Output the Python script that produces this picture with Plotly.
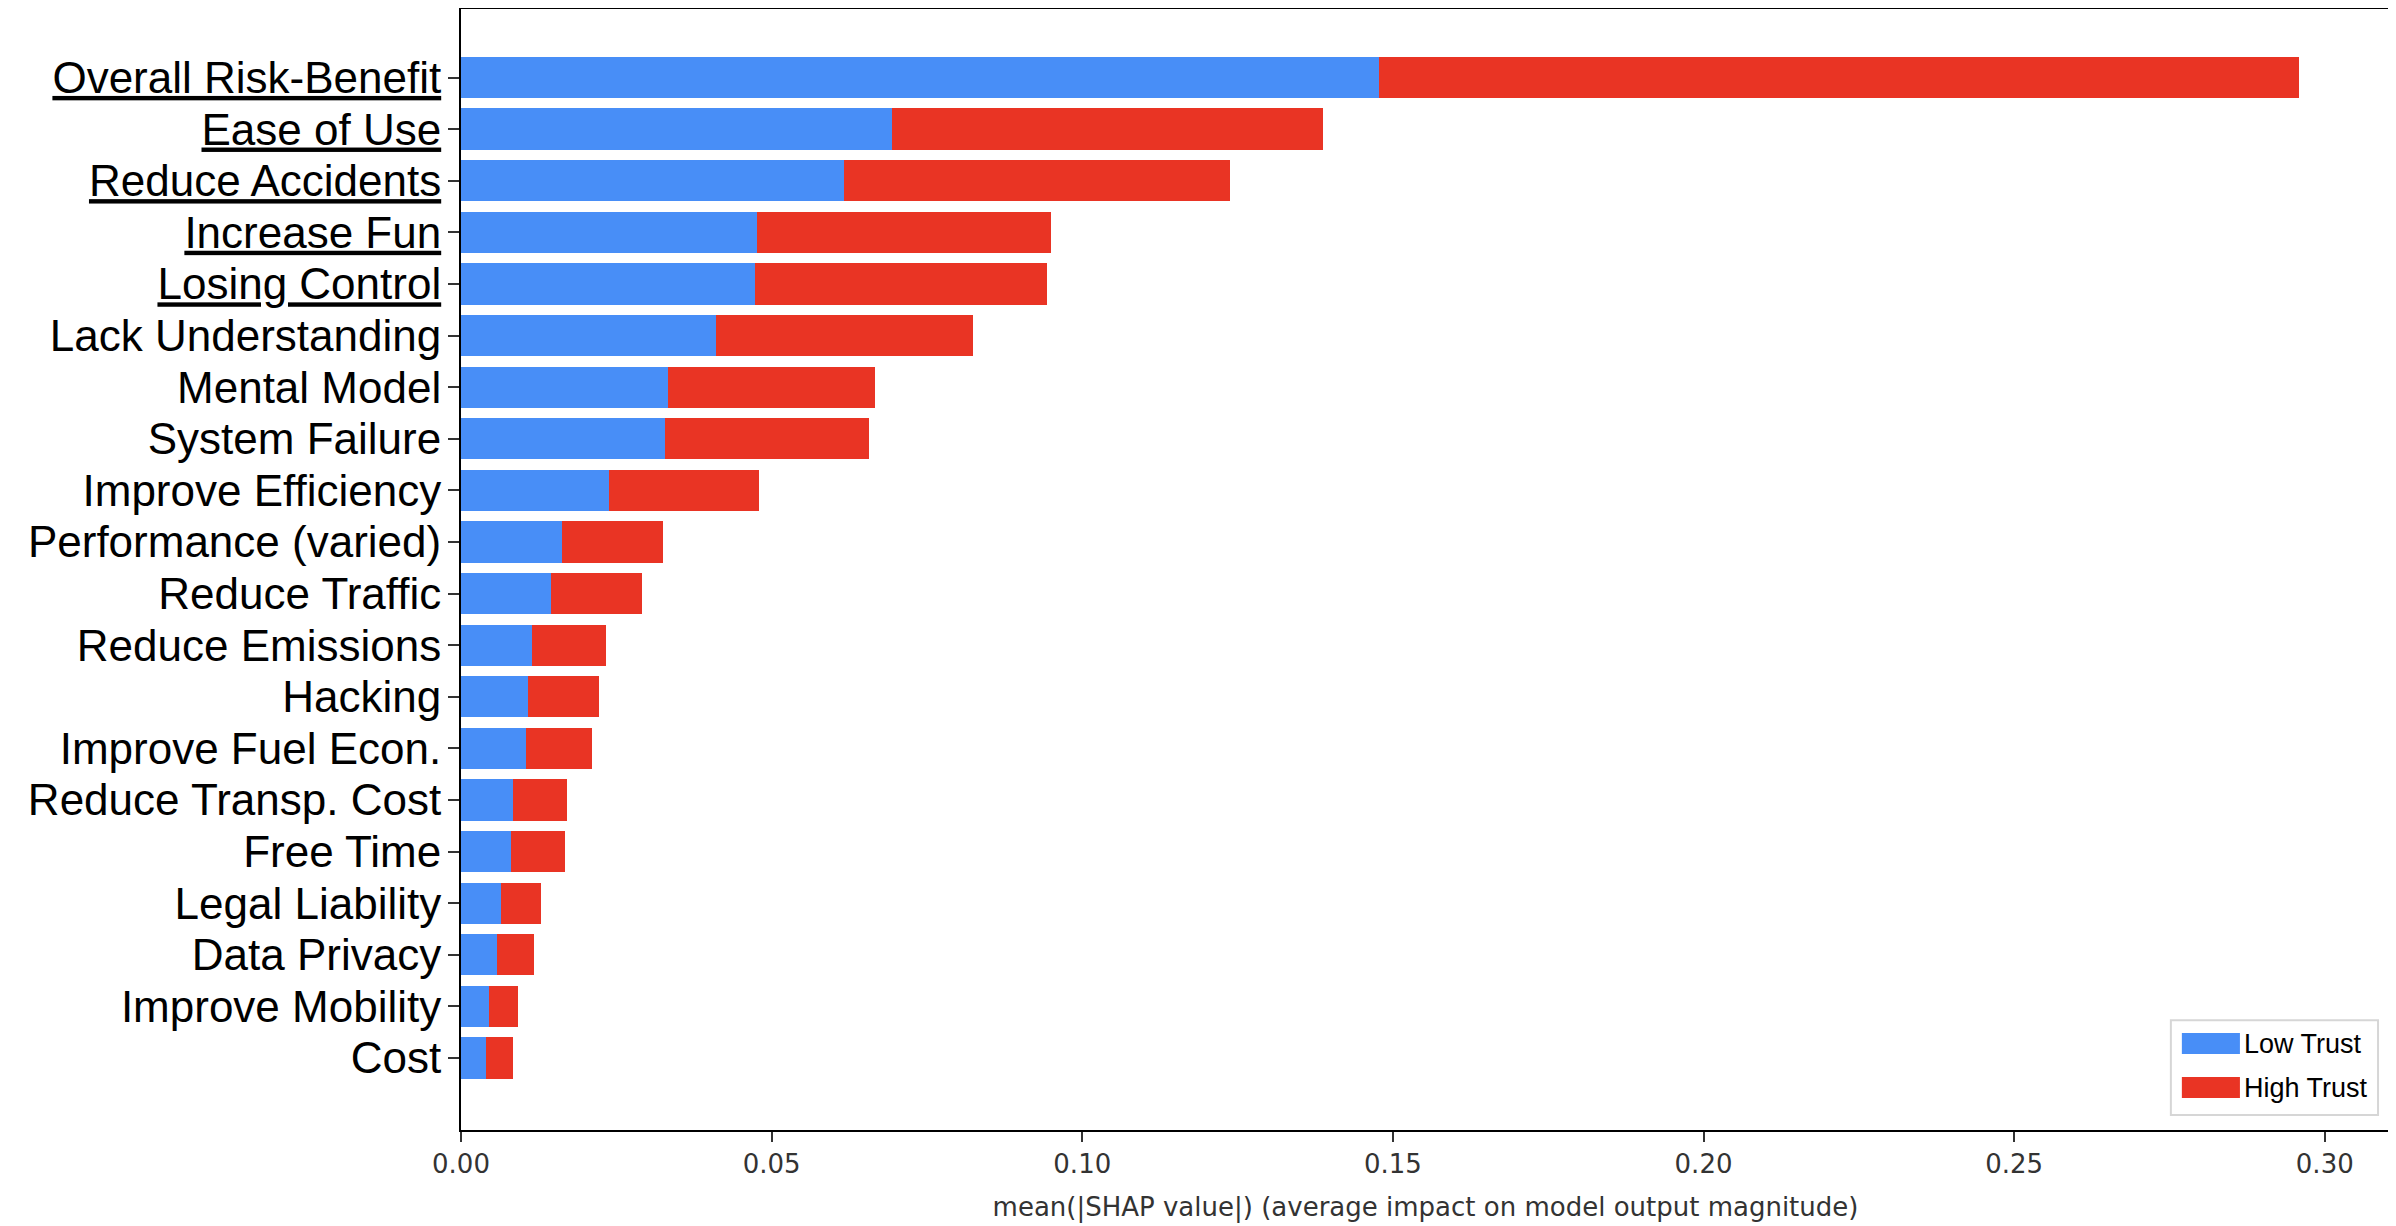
"""
SHAP summary bar chart: mean |SHAP| per feature, stacked by trust class.
"""

import plotly.graph_objects as go

# DATA
features = [
    "Overall Risk-Benefit", "Ease of Use", "Reduce Accidents", "Increase Fun",
    "Losing Control", "Lack Understanding", "Mental Model", "System Failure",
    "Improve Efficiency", "Performance (varied)", "Reduce Traffic",
    "Reduce Emissions", "Hacking", "Improve Fuel Econ.", "Reduce Transp. Cost",
    "Free Time", "Legal Liability", "Data Privacy", "Improve Mobility", "Cost",
]
underlined = ["Overall Risk-Benefit", "Ease of Use", "Reduce Accidents",
              "Increase Fun", "Losing Control"]

low_trust = [0.1478, 0.0693, 0.0617, 0.0476, 0.0474, 0.0410, 0.0333, 0.0329,
             0.0239, 0.0162, 0.0145, 0.0114, 0.0108, 0.0104, 0.0084, 0.0081,
             0.0064, 0.0058, 0.0045, 0.0041]
high_trust = [0.1480, 0.0694, 0.0621, 0.0474, 0.0470, 0.0414, 0.0334, 0.0327,
              0.0240, 0.0163, 0.0147, 0.0120, 0.0114, 0.0107, 0.0087, 0.0087,
              0.0064, 0.0060, 0.0046, 0.0043]

x_ticks = [0.00, 0.05, 0.10, 0.15, 0.20, 0.25, 0.30]
x_tick_labels = ["0.00", "0.05", "0.10", "0.15", "0.20", "0.25", "0.30"]

BLUE = "#488ef7"
RED = "#e93424"

tick_text = [f"<u>{f}</u>" if f in underlined else f for f in features]

fig = go.Figure()
fig.add_trace(go.Bar(y=features, x=low_trust, orientation="h", name="Low Trust",
                     marker=dict(color=BLUE, line=dict(width=0))))
fig.add_trace(go.Bar(y=features, x=high_trust, orientation="h", name="High Trust",
                     marker=dict(color=RED, line=dict(width=0))))

# the page adds an 8px body margin, so the margins are pulled in by 8px
fig.update_layout(
    width=2396, height=1226,
    barmode="stack", bargap=0.2,
    showlegend=False,
    plot_bgcolor="white", paper_bgcolor="white",
    margin=dict(l=453, r=14, t=1, b=104, autoexpand=False),
    font=dict(family="DejaVu Sans", color="#333333"),
)

fig.update_xaxes(
    range=[0, 0.3105], tickvals=x_ticks, ticktext=x_tick_labels,
    showline=True, linecolor="black", linewidth=2, mirror=True,
    ticks="outside", ticklen=10, tickwidth=2, tickcolor="#333333",
    tickfont=dict(family="DejaVu Sans", size=26, color="#333333"),
    showgrid=False, zeroline=False,
    title=dict(text="mean(|SHAP value|) (average impact on model output magnitude)",
               font=dict(family="DejaVu Sans", size=26, color="#333333"),
               standoff=20),
)
fig.update_yaxes(
    type="category", categoryorder="array", categoryarray=features,
    range=[19 + 1.395, -1.328],
    tickvals=features, ticktext=tick_text,
    showline=True, linecolor="black", linewidth=2, mirror=True,
    ticks="outside", ticklen=11, tickwidth=2, tickcolor="#333333",
    tickfont=dict(family="Liberation Sans", size=44, color="black"),
    ticklabelstandoff=-2,
    showgrid=False, zeroline=False,
)

# legend box drawn by hand so the swatches are wide rectangles like the original
legend_items = [("Low Trust", BLUE, 0.0771), ("High Trust", RED, 0.0379)]
fig.add_shape(type="rect", xref="paper", yref="paper",
              x0=0.8864, x1=0.9938, y0=0.0134, y1=0.0980,
              line=dict(color="#d6d6d6", width=2), fillcolor="white", layer="above")
for name, color, yc in legend_items:
    fig.add_shape(type="rect", xref="paper", yref="paper",
                  x0=0.8921, x1=0.9222, y0=yc - 0.0094, y1=yc + 0.0094,
                  line=dict(width=0), fillcolor=color, layer="above")
    fig.add_annotation(text=name, xref="paper", yref="paper", x=0.9232, y=yc,
                       xanchor="left", yanchor="middle", showarrow=False,
                       font=dict(family="Liberation Sans", size=27, color="black"))

fig.write_html("out.html")
